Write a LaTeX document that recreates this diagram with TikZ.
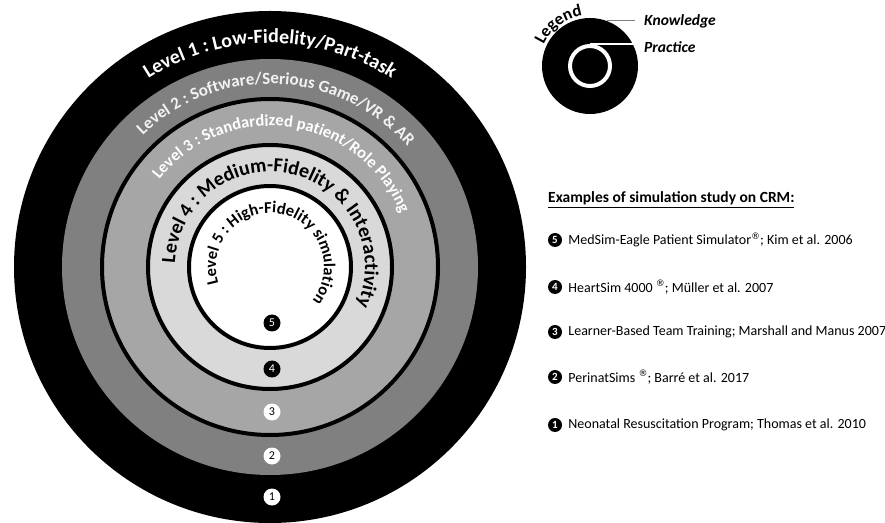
\documentclass[tikz,border=0pt]{standalone}
\usepackage{fontspec}
\setmainfont{Carlito}
\newfontfamily\symfont{DejaVu Sans}
\usetikzlibrary{calc,positioning,decorations.text}
\definecolor{lvltwo}{gray}{0.5}
\definecolor{lvlthree}{gray}{0.65}
\definecolor{lvlfour}{gray}{0.85}
\newcommand{\lvlfont}[1]{\fontsize{#1}{#1}\selectfont\bfseries}
\newcommand{\regmark}{\raisebox{0.38em}{\symfont\fontsize{9}{9}\selectfont ®}}
\tikzset{ringnum/.style={circle,inner sep=0pt,minimum size=17pt,font=\fontsize{12}{12}\selectfont},
  listnum/.style={circle,fill=black,text=white,inner sep=0pt,minimum size=14pt,font=\fontsize{11}{11}\selectfont\bfseries},
  item/.style={inner sep=2pt,font=\fontsize{14}{16}\selectfont},
  bandline/.style={line width=4pt},
  legtext/.style={anchor=base west,inner sep=0pt,font=\fontsize{15.5}{15.5}\selectfont\bfseries\itshape}}

\begin{document}
\begin{tikzpicture}[x=1pt,y=1pt]
\useasboundingbox (0,0) rectangle (885,522);
\coordinate (c) at (270,255);
% the five levels
\fill[black] (c) circle[radius=256];
\fill[lvltwo] (c) circle[radius=208];
\draw[bandline,fill=lvlthree] (c) circle[radius=168];
\draw[bandline,fill=lvlfour] (c) circle[radius=122];
\draw[bandline,fill=white] (c) circle[radius=81];
% level titles bent along the bands
\path[decorate,decoration={text along path,text align=center,
  text={|\lvlfont{20}\color{white}|Level 1 : Low-Fidelity/Part-task}}]
  ($(c)+(150:224)$) arc[start angle=150,end angle=30,radius=224];
\path[decorate,decoration={text along path,text align=center,
  text={|\lvlfont{17}\color{white!95!black}|Level 2 :  Software/Serious Game/VR {\&} AR}}]
  ($(c)+(147.6:183)$) arc[start angle=147.6,end angle=27.6,radius=183];
\path[decorate,decoration={text along path,text align=center,
  text={|\lvlfont{16.5}\color{white}|Level 3 :  Standardized patient/Role Playing}}]
  ($(c)+(157:141)$) arc[start angle=157,end angle=7,radius=141];
\path[decorate,decoration={text along path,text align=center,
  text={|\lvlfont{20}|Level 4 :  Medium-Fidelity {\&} Interactivity}}]
  ($(c)+(192:95)$) arc[start angle=192,end angle=-38,radius=95];
\path[decorate,decoration={text along path,text align=center,
  text={|\lvlfont{16.5}|Level 5 :  High-Fidelity simulation}}]
  ($(c)+(219.5:54)$) arc[start angle=219.5,end angle=-60.5,radius=54];
% level numbers
\foreach \n/\y in {1/25,2/66,3/110}
  \node[ringnum,fill=white] (r\n) at (272,\y) {\n};
\foreach \n/\y in {4/153,5/199}
  \node[ringnum,fill=black,text=white] (r\n) at (272,\y) {\n};

% legend
\coordinate (lg) at (590,456);
\fill[black] (lg) circle[radius=48];
\draw[white,line width=4pt] (lg) circle[radius=20];
\path[decorate,decoration={text along path,text align=center,text={|\lvlfont{17}|Legend}}]
  ($(lg)+(177:51)$) arc[start angle=177,end angle=77,radius=51];
\node[legtext] (kw) at (644,496) {Knowledge};
\node[legtext] (pw) at (644,469) {Practice};
\coordinate (kn) at (607,501);
\coordinate (pn) at (590,478);
\draw[gray,line width=1pt,shorten >=9pt] (kn) -- (kn -| kw.west);
\draw[white,line width=1.5pt,shorten >=9pt] (pn) -- (pn -| pw.west);

% examples
\node[anchor=base west,inner sep=0pt,font=\fontsize{15.5}{15.5}\selectfont\bfseries] (ttl) at (548,319)
  {\underline{Examples of simulation study on CRM:}};
\node[listnum] (e5) at (555,282) {5};
\node[item,right=4pt of e5] (t5) {MedSim-Eagle Patient Simulator\regmark; Kim et al. 2006};
\node[listnum] (e4) at (555,235) {4};
\node[item,right=4pt of e4] (t4) {HeartSim 4000 \regmark; Müller et al. 2007};
\node[listnum] (e3) at (555,190) {3};
\node[item,right=4pt of e3] (t3) {Learner-Based Team Training; Marshall and Manus 2007};
\node[listnum] (e2) at (555,145) {2};
\node[item,right=4pt of e2] (t2) {PerinatSims \regmark; Barré et al. 2017};
\node[listnum] (e1) at (555,97) {1};
\node[item,right=4pt of e1] (t1) {Neonatal Resuscitation Program; Thomas et al. 2010};
\end{tikzpicture}
\end{document}
